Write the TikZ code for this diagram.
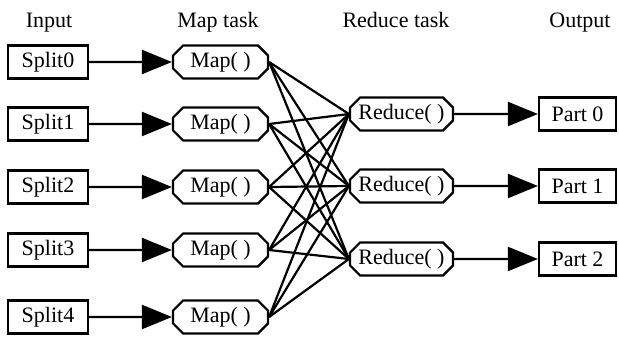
\documentclass[tikz,border=0pt]{standalone}
\usepackage{fontspec}
\setmainfont{Liberation Serif}
\usetikzlibrary{positioning,shapes,shapes.misc,arrows,arrows.meta}
\tikzstyle{split} = [rectangle, text centered, draw=black, line width=2.2pt, minimum width=80pt, minimum height=33pt, inner sep=0pt]
\tikzstyle{part} = [rectangle, text centered, draw=black, line width=2.2pt, minimum width=77pt, minimum height=33pt, inner sep=0pt]
\tikzstyle{task} = [chamfered rectangle, chamfered rectangle xsep=7pt, text centered, draw=black, line width=2.2pt, minimum height=33pt, inner sep=0pt]
\tikzstyle{header} = [anchor=base, inner sep=0pt]
\tikzstyle{arrow} = [-{Triangle[length=30pt,width=24pt]}, line width=2.2pt]
\tikzstyle{link} = [line width=2.2pt]

\begin{document}
\begin{tikzpicture}[x=1pt,y=-1pt,font=\fontsize{22}{26}\selectfont]
		\useasboundingbox (0,0) rectangle (619,337);
		% column titles
		\node (input) [header] at (49,28) {Input};
		\node (map-task) [header] at (218,28) {Map task};
		\node (reduce-task) [header] at (396,28) {Reduce task};
		\node (output) [header] at (580,28) {Output};
		
		\foreach \i/\y in {0/62,1/124,2/187,3/250,4/317} {
			\node (split\i) [split] at (48,\y) {Split\i};
			\node (map\i) [task,minimum width=95pt] at (220.5,\y) {Map( )};
			\draw [arrow] (split\i) -- (map\i);
		}
		
		\foreach \j/\y in {0/114,1/186,2/259} {
			\node (reduce\j) [task,minimum width=103pt] at (401.5,\y) {Reduce( )};
			\node (part\j) [part] at (577.5,\y) {Part \j};
			\draw [arrow] (reduce\j) -- (part\j);
		}
		
		\foreach \i in {0,...,4}
			\foreach \j in {0,1,2}
				\draw [link] (map\i.east) -- (reduce\j.west);
		
	\end{tikzpicture}
\end{document}
